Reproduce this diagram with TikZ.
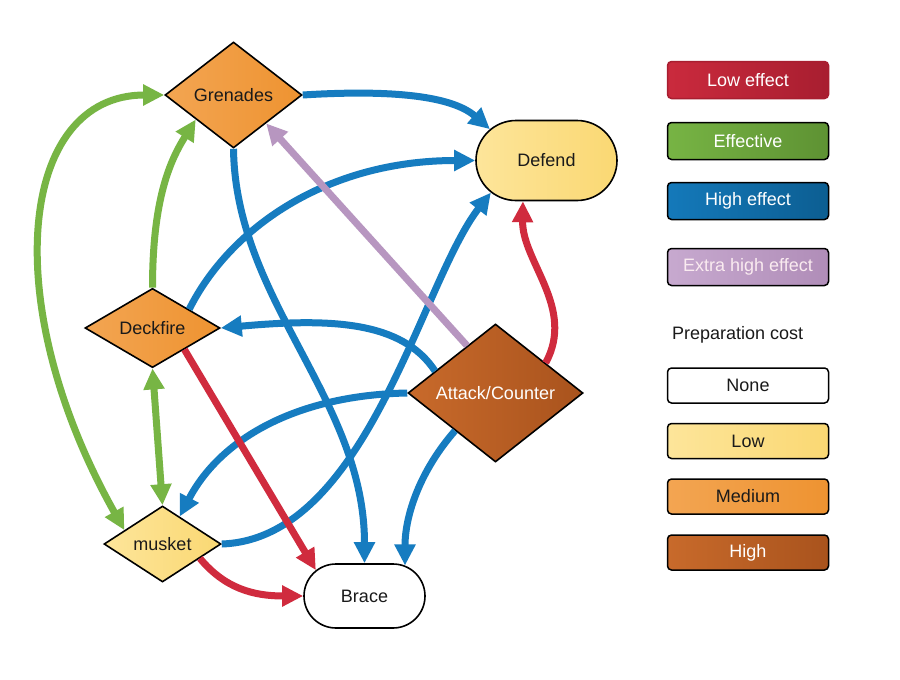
\documentclass[tikz,border=0pt]{standalone}
\usepackage{fontspec}
\setmainfont{Liberation Sans}
\usetikzlibrary{shapes.geometric,shapes.misc,arrows.meta}
\definecolor{cblue}{HTML}{167CC0}
\definecolor{cgreen}{HTML}{77B544}
\definecolor{cred}{HTML}{D02B3E}
\definecolor{cpurple}{HTML}{B796C0}
\definecolor{txt}{HTML}{1A1A1A}
\definecolor{orL}{HTML}{F3A552}
\definecolor{orR}{HTML}{EE9331}
\definecolor{yeL}{HTML}{FDE59A}
\definecolor{yeR}{HTML}{FAD873}
\definecolor{brL}{HTML}{C86A2B}
\definecolor{brR}{HTML}{A9531D}
\definecolor{reL}{HTML}{CA2A3D}
\definecolor{reR}{HTML}{A81E30}
\definecolor{grL}{HTML}{77B444}
\definecolor{grR}{HTML}{5E9233}
\definecolor{blL}{HTML}{1479BA}
\definecolor{blR}{HTML}{0C5E92}
\definecolor{puL}{HTML}{C7A9CF}
\definecolor{puR}{HTML}{B08DB8}
\begin{document}
\begin{tikzpicture}[x=1pt,y=-1pt,
  lbl/.style={font=\fontsize{18}{21}\selectfont},
  dnode/.style={diamond, draw=black, line width=1.6pt, inner sep=0pt, lbl, text=txt},
  rnode/.style={rounded rectangle, draw=black, line width=1.6pt, inner sep=0pt, lbl, text=txt},
  leg/.style={rectangle, rounded corners=4pt, draw=black, line width=1.5pt, minimum width=161pt, minimum height=37pt, inner sep=0pt, lbl},
  conn/.style={line width=7pt, -{Triangle[length=21pt,width=20pt]}},
  biconn/.style={line width=7pt, {Triangle[length=21pt,width=20pt]}-{Triangle[length=21pt,width=20pt]}}
]
\fill[white] (0,0) rectangle (900,680);
\useasboundingbox (0,0) rectangle (900,680);

% graph nodes
\node[dnode, minimum width=137pt, minimum height=106pt, left color=orL, right color=orR] (gren) at (233.5,95) {Grenades};
\node[dnode, minimum width=135pt, minimum height=76pt, left color=orL, right color=orR] (deck) at (152.5,328) {Deckfire};
\node[dnode, minimum width=117pt, minimum height=76pt, left color=yeL, right color=yeR] (musket) at (162.5,544) {musket};
\node[dnode, minimum width=175pt, minimum height=138pt, left color=brL, right color=brR, text=white] (attack) at (495.5,393) {Attack/Counter};
\node[rnode, minimum width=141pt, minimum height=80pt, left color=yeL, right color=yeR] (defend) at (546.5,160.5) {Defend};
\node[rnode, minimum width=121pt, minimum height=64pt, fill=white] (brace) at (364.5,596) {Brace};

% green connectors
\draw[conn, cgreen] (deck.north) .. controls +(0,-90) and +(-25,40) .. (gren.213);
\draw[biconn, cgreen] (musket.160) .. controls +(-128,-228) and +(-145,0) .. (gren.west);
\draw[biconn, cgreen] (deck.south) -- (musket.north);

% blue connectors
\draw[conn, cblue] (gren.east) .. controls +(80,-5) and +(-40,-35) .. (defend.151);
\draw[conn, cblue] (gren.south) .. controls +(2,152) and +(0,-164) .. (brace.north);
\draw[conn, cblue] (deck.27) .. controls +(40,-80) and +(-150,0) .. (defend.west);
\draw[conn, cblue] (musket.east) .. controls +(145,-5) and +(-70,90) .. (defend.210);
\draw[conn, cblue] (attack.160) .. controls +(-33,-50) and +(110,-10) .. (deck.east);
\draw[conn, cblue] (attack.west) .. controls +(-107,2) and +(42,-80) .. (musket.58);
\draw[conn, cblue] (attack.223) .. controls +(-35,40) and +(0,-50) .. (brace.37);

% red connectors
\draw[conn, cred] (attack.31) .. controls +(30,-55) and +(-1,60) .. (defend.240);
\draw[conn, cred] (deck.-34) -- (brace.152);
\draw[conn, cred] (musket.-21) .. controls +(25,30) and +(-50,0) .. (brace.west);

% purple connector
\draw[conn, cpurple] (attack.121) -- (gren.-41);

% legend
\node[leg, draw=reR, left color=reL, right color=reR, text=white] (lowe) at (748,80) {Low effect};
\node[leg, left color=grL, right color=grR, text=white] (effe) at (748,141) {Effective};
\node[leg, left color=blL, right color=blR, text=white] (highe) at (748,201) {High effect};
\node[leg, left color=puL, right color=puR, text=white!92!purple] (xhighe) at (748,267) {Extra high effect};
\node[lbl, anchor=west, text=txt, inner sep=0pt] (prep) at (672,335) {Preparation cost};
\node[leg, fill=white, text=txt, minimum height=35pt] (none) at (748,385.5) {None};
\node[leg, left color=yeL, right color=yeR, text=txt, minimum height=35pt] (lowc) at (748,441) {Low};
\node[leg, left color=orL, right color=orR, text=txt, minimum height=35pt] (medc) at (748,496.5) {Medium};
\node[leg, left color=brL, right color=brR, text=white, minimum height=35pt] (highc) at (748,552.5) {High};
\end{tikzpicture}
\end{document}
